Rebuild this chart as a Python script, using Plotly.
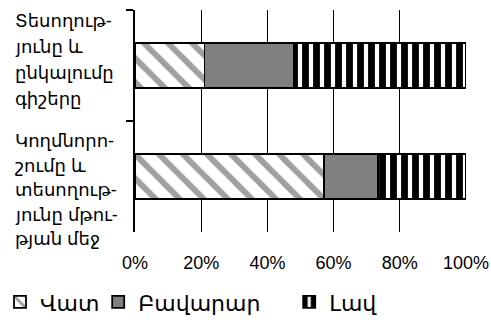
import plotly.graph_objects as go

categories = ["Տեսողությունը և ընկալումը գիշերը",
              "Կողմնորոշումը և տեսողությունը մթության մեջ"]
label_lines = [["Տեսողութ-", "յունը և", "ընկալումը", "գիշերը"],
               ["Կողմնորո-", "շումը և", "տեսողութ-", "յունը մթու-", "թյան մեջ"]]
series_names = ["Վատ", "Բավարար", "Լավ"]
vat = [0.21, 0.57]
bavarar = [0.27, 0.165]
lav = [0.52, 0.265]
x_ticks = [0, 0.2, 0.4, 0.6, 0.8, 1.0]

FONT = "Liberation Sans, Arial, DejaVu Sans, sans-serif"

fig = go.Figure()
fig.add_trace(go.Bar(
    y=categories, x=vat, name=series_names[0], orientation="h", width=0.4,
    marker=dict(color="white", line=dict(color="black", width=1.8),
                pattern=dict(shape="\\", fgcolor="#a0a0a0", bgcolor="white",
                             fgopacity=1, size=17, solidity=0.35,
                             fillmode="overlay")),
    legend="legend"))
fig.add_trace(go.Bar(
    y=categories, x=bavarar, name=series_names[1], orientation="h", width=0.4,
    marker=dict(color="#808080", line=dict(color="black", width=1.8)),
    legend="legend2"))
fig.add_trace(go.Bar(
    y=categories, x=lav, name=series_names[2], orientation="h", width=0.4,
    marker=dict(color="white", line=dict(color="black", width=1.8),
                pattern=dict(shape="|", fgcolor="black", bgcolor="white",
                             fgopacity=1, size=11, solidity=0.62,
                             fillmode="overlay")),
    legend="legend3"))

# category labels, left aligned, one annotation per line
shifts = [[45, 19, -7, -33], [36, 11, -13, -38, -62]]
for ci, lines in enumerate(label_lines):
    for li, txt in enumerate(lines):
        fig.add_annotation(text=txt, xref="paper", yref="y", x=-0.370,
                           y=categories[ci], xanchor="left", yanchor="middle",
                           yshift=shifts[ci][li], showarrow=False,
                           font=dict(family=FONT, size=18, color="black"))

leg_common = dict(orientation="h", xref="container", yref="container",
                  y=0.098, yanchor="middle", bgcolor="rgba(0,0,0,0)",
                  font=dict(family=FONT, size=22, color="black"),
                  itemclick=False)

fig.update_layout(
    barmode="stack",
    width=491, height=335,
    margin=dict(l=135, r=25, t=10, b=103, autoexpand=False),
    paper_bgcolor="white", plot_bgcolor="white",
    font=dict(family=FONT, size=18, color="black"),
    showlegend=True,
    legend=dict(x=-0.022, **leg_common),
    legend2=dict(x=0.200, **leg_common),
    legend3=dict(x=0.589, **leg_common),
    xaxis=dict(range=[0, 1], tickvals=x_ticks, tickformat=".0%",
               showgrid=True, gridcolor="black", gridwidth=1,
               zeroline=False, showline=False, ticks="",
               ticklabelstandoff=18, automargin=False,
               tickfont=dict(family=FONT, size=18, color="black")),
    yaxis=dict(categoryorder="array", categoryarray=categories,
               autorange="reversed", showticklabels=False, automargin=False,
               showline=True, linecolor="black", linewidth=1.5,
               ticks="outside", tickson="boundaries", ticklen=7,
               tickcolor="black", tickwidth=1.5, showgrid=False),
)

fig.write_html("out.html")
